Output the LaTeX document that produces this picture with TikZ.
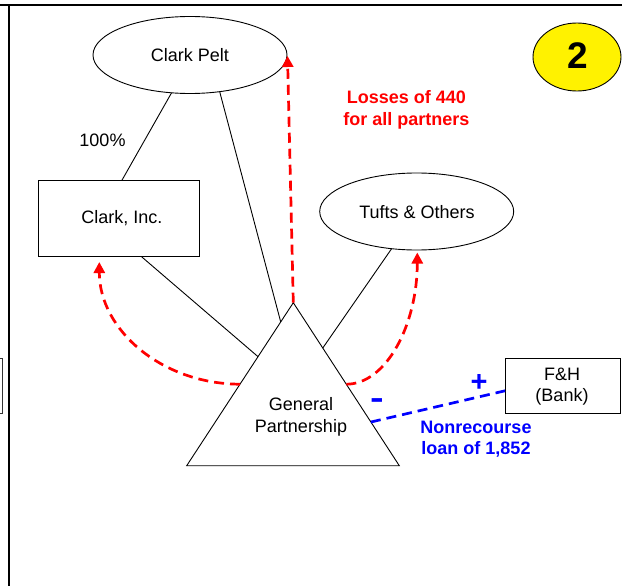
\documentclass[tikz,border=0pt]{standalone}
\usepackage{fontspec}
\setmainfont{Liberation Sans}
\usetikzlibrary{shapes.geometric,arrows.meta,calc}
\begin{document}
\begin{tikzpicture}[x=1pt,y=-1pt,
  every node/.style={inner sep=0pt, outer sep=0pt},
  txt/.style={font=\fontsize{18}{21.5}\selectfont, align=center},
  oval/.style={ellipse, draw, line width=0.9pt, minimum width=194pt, minimum height=77pt},
  boxnode/.style={rectangle, draw, line width=0.9pt},
  link/.style={line width=0.9pt},
  loss/.style={draw=red, line width=2.7pt, dash pattern=on 10pt off 6pt, -{Triangle[length=11pt,width=11pt]}},
  loan/.style={draw=blue, line width=2.7pt, dash pattern=on 10pt off 6pt},
  redlbl/.style={font=\fontsize{18}{22.5}\selectfont\bfseries, text=red, align=center},
  bluelbl/.style={font=\fontsize{18}{20.5}\selectfont\bfseries, text=blue, align=center},
]
\useasboundingbox (0,0) rectangle (622,586);

% frame
\draw[line width=2pt] (0,5) -- (622,5);
\draw[line width=2pt] (8.5,5) -- (8.5,586);
\draw[line width=0.9pt, draw=black!80] (-3,358) -- (2.3,358) -- (2.3,413) -- (-3,413);

% shapes
\node[oval] (cp) at (190,55) {};
\node[txt] (cpt) at (190,55) {Clark Pelt};
\node[oval] (tu) at (416.7,211.5) {};
\node[txt] (tut) at (417,212) {Tufts \& Others};
\node[boxnode, minimum width=161pt, minimum height=76.7pt] (ci) at (118.7,218.5) {};
\node[txt] (cit) at (122,218.5) {Clark, Inc.};
\node[boxnode, minimum width=115.7pt, minimum height=55pt] (fh) at (562.9,385.8) {};
\node[txt] (fht) at (562,386.5) {F\&H\\(Bank)};
\node[txt] (pct) at (102.5,140.3) {100\%};

\node[ellipse, draw, fill=yellow, line width=0.9pt, minimum width=88pt, minimum height=68pt] (num) at (577,57) {};
\node[font=\fontsize{37}{40}\selectfont\bfseries] (numt) at (578,56) {2};

% triangle
\coordinate (A) at (293.3,302.7);
\coordinate (BL) at (186.7,465.7);
\coordinate (BR) at (399.3,465.7);
\draw[line width=0.9pt, line join=miter] (A) -- (BL) -- (BR) -- cycle;
\node[txt] (gp) at (301,417) {General\\Partnership};

\coordinate (l1) at ($(A)!0.118!(BL)$);
\coordinate (l2) at ($(A)!0.331!(BL)$);
\coordinate (l3) at ($(A)!0.278!(BR)$);
\coordinate (rl) at ($(A)!0.5!(BL)$);
\coordinate (rr) at ($(A)!0.5!(BR)$);
\coordinate (bl) at ($(A)!0.732!(BR)$);

% ownership lines
\draw[link] (cp.244) -- ([xshift=3.3pt]ci.north);
\draw[link] (cp.309) -- (l1);
\draw[link] ([xshift=23pt]ci.south) -- (l2);
\draw[link] (tu.236) -- (l3);

% loss arrows
\coordinate (tipcp) at (287.5,56);
\coordinate (tipci) at (99.3,262);
\coordinate (tiptu) at (417.3,252.5);
\draw[loss] (A) -- (tipcp);
\draw[loss] (rl) .. controls (162,384) and (99.3,330) .. (tipci);
\draw[loss] (rr) .. controls (386,384.3) and (417.3,325) .. (tiptu);

% loan
\draw[loan] (bl) -- ([yshift=-5pt]fh.west);
\node[font=\fontsize{22}{24}\selectfont\bfseries, text=blue] (minus) at (377,405) {\scalebox{0.95}[1.7]{--}};
\node[font=\fontsize{29}{30}\selectfont\bfseries, text=blue] (plus) at (479,382.5) {+};

% labels
\node[redlbl] (losslbl) at (406.5,110) {Losses of 440\\for all partners};
\node[bluelbl] (loanlbl) at (476,439) {Nonrecourse\\loan of 1,852};
\end{tikzpicture}
\end{document}
